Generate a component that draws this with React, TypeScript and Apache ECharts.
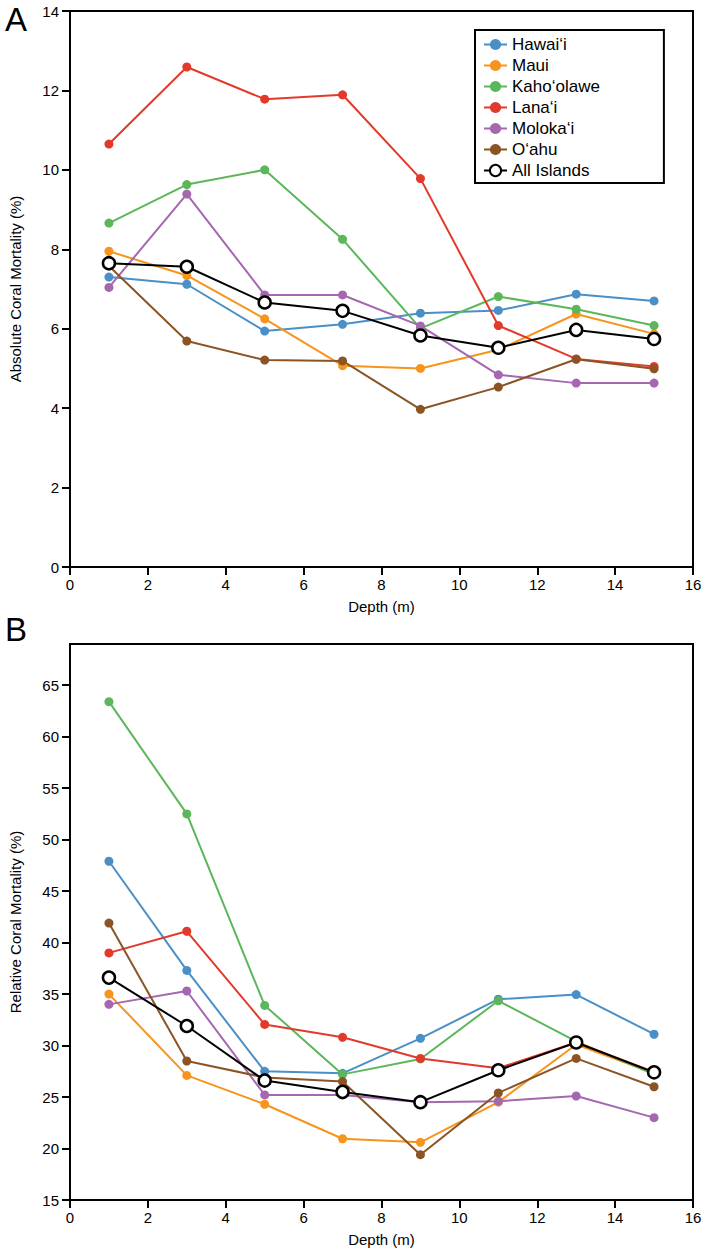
import React, { useEffect, useRef } from "react";
import * as echarts from "echarts";

const depths = [1, 3, 5, 7, 9, 11, 13, 15];
const islands = ["Hawai‘i", "Maui", "Kaho‘olawe", "Lana‘i", "Moloka‘i", "O‘ahu", "All Islands"];
const colors = ["#4a8fc6", "#f7941d", "#5cb65a", "#e3392b", "#a467b0", "#8b5425", "#000000"];

// Panel A: absolute coral mortality (%)
const absHawaii = [7.3, 7.12, 5.94, 6.11, 6.39, 6.46, 6.87, 6.7];
const absMaui = [7.95, 7.34, 6.25, 5.07, 5.0, 5.47, 6.37, 5.87];
const absKahoolawe = [8.66, 9.63, 10.0, 8.25, 6.01, 6.81, 6.49, 6.08];
const absLanai = [10.65, 12.59, 11.78, 11.89, 9.78, 6.08, 5.24, 5.05];
const absMolokai = [7.04, 9.39, 6.85, 6.85, 6.07, 4.84, 4.63, 4.63];
const absOahu = [7.58, 5.69, 5.21, 5.19, 3.97, 4.53, 5.23, 4.99];
const absAll = [7.65, 7.56, 6.66, 6.45, 5.83, 5.52, 5.97, 5.74];

// Panel B: relative coral mortality (%)
const relHawaii = [47.9, 37.3, 27.5, 27.3, 30.7, 34.5, 34.95, 31.1];
const relMaui = [35.0, 27.1, 24.3, 20.95, 20.6, 24.5, 30.1, 27.3];
const relKahoolawe = [63.4, 52.5, 33.9, 27.2, 28.7, 34.35, 30.4, 27.2];
const relLanai = [39.0, 41.1, 32.05, 30.8, 28.75, 27.8, 30.3, 27.45];
const relMolokai = [34.0, 35.3, 25.2, 25.2, 24.5, 24.6, 25.1, 23.0];
const relOahu = [41.9, 28.5, 26.9, 26.5, 19.4, 25.4, 28.75, 26.0];
const relAll = [36.6, 31.9, 26.6, 25.5, 24.5, 27.6, 30.3, 27.4];

const absSeries = [absHawaii, absMaui, absKahoolawe, absLanai, absMolokai, absOahu, absAll];
const relSeries = [relHawaii, relMaui, relKahoolawe, relLanai, relMolokai, relOahu, relAll];

const relTicks = [15, 20, 25, 30, 35, 40, 45, 50, 55, 60, 65];

const FONT = "Liberation Sans, Arial, Helvetica, sans-serif";

export default function App() {
  const ref = useRef<HTMLDivElement>(null);
  useEffect(() => {
    if (!ref.current) return;
    const chart = echarts.init(ref.current, undefined, { renderer: "svg" });

    const axisCommon = {
      axisLine: { show: true, lineStyle: { color: "#000", width: 2 } },
      axisTick: { show: true, inside: false, length: 8, lineStyle: { color: "#000", width: 2 } },
      axisLabel: { color: "#000", fontSize: 15, fontFamily: FONT, margin: 11 },
      splitLine: { show: false },
      nameTextStyle: { color: "#000", fontSize: 15, fontFamily: FONT },
    };

    const makeSeries = (data: number[][], gridIdx: number) =>
      data.map((vals, i) => {
        const isAll = i === islands.length - 1;
        return {
          name: islands[i],
          type: "line",
          xAxisIndex: gridIdx,
          yAxisIndex: gridIdx,
          data: depths.map((d, k) => [d, vals[k]]),
          symbol: "circle",
          symbolSize: isAll ? 12 : 9,
          lineStyle: { color: colors[i], width: 2 },
          itemStyle: isAll
            ? { color: "#fff", borderColor: "#000", borderWidth: 2.5 }
            : { color: colors[i], borderWidth: 0 },
          z: isAll ? 5 : 2,
        };
      });

    chart.setOption({
      animation: false,
      backgroundColor: "#fff",
      textStyle: { fontFamily: FONT },
      grid: [
        { left: 68, top: 11, width: 625, height: 556, show: true, borderColor: "#000", borderWidth: 2, backgroundColor: "transparent" },
        { left: 68, top: 644, width: 625, height: 556, show: true, borderColor: "#000", borderWidth: 2, backgroundColor: "transparent" },
      ],
      xAxis: [0, 1].map((g) => ({
        ...axisCommon,
        type: "value",
        gridIndex: g,
        min: 0,
        max: 16,
        interval: 2,
        name: "Depth (m)",
        nameLocation: "middle",
        nameGap: 32,
        axisLabel: { ...axisCommon.axisLabel, margin: 10 },
      })),
      yAxis: [
        {
          ...axisCommon,
          type: "value",
          gridIndex: 0,
          min: 0,
          max: 14,
          interval: 2,
          name: "Absolute Coral Mortality (%)",
          nameLocation: "middle",
          nameGap: 47,
        },
        {
          ...axisCommon,
          type: "value",
          gridIndex: 1,
          min: 15,
          max: 69,
          interval: 5,
          name: "Relative Coral Mortality (%)",
          nameLocation: "middle",
          nameGap: 47,
          axisTick: { ...axisCommon.axisTick, customValues: relTicks },
          axisLabel: { ...axisCommon.axisLabel, customValues: relTicks },
        },
      ],
      legend: {
        orient: "vertical",
        left: 475,
        top: 30,
        data: islands,
        backgroundColor: "#fff",
        borderColor: "#000",
        borderWidth: 2,
        borderRadius: 0,
        padding: [6, 64, 4, 8],
        itemGap: 4,
        itemWidth: 23,
        itemHeight: 14,
        textStyle: { color: "#000", fontSize: 17, fontFamily: FONT },
      },
      graphic: [
        { type: "text", left: 5, top: 3, style: { text: "A", fontSize: 33, fontFamily: FONT, fill: "#000" } },
        { type: "text", left: 5, top: 613, style: { text: "B", fontSize: 33, fontFamily: FONT, fill: "#000" } },
      ],
      series: [...makeSeries(absSeries, 0), ...makeSeries(relSeries, 1)],
    });
    return () => chart.dispose();
  }, []);
  return (
    <div
      ref={ref}
      style={{ position: "absolute", left: 0, top: 0, width: 710, height: 1257 }}
    />
  );
}
